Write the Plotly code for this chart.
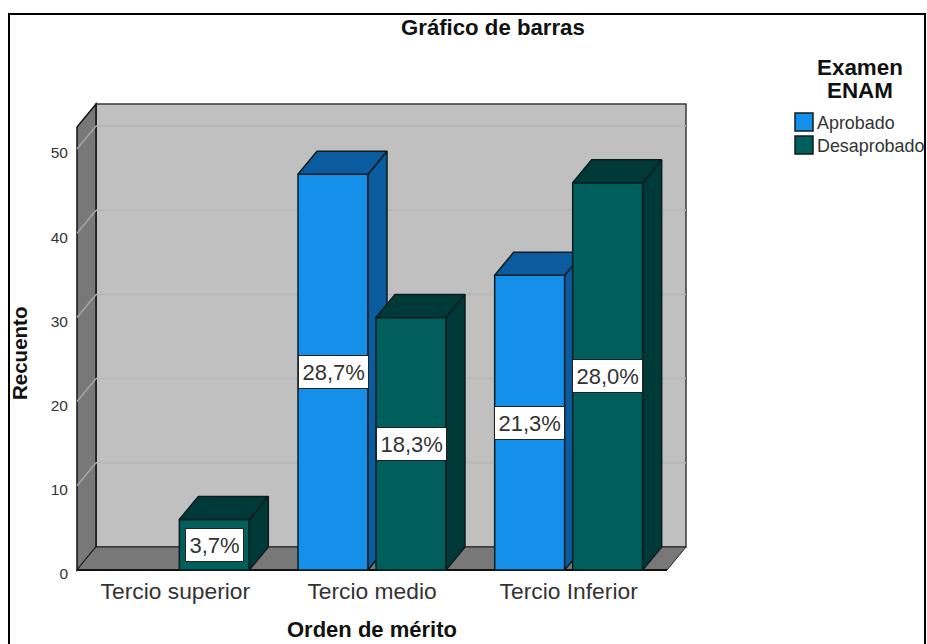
import plotly.graph_objects as go

# ---- data ----
categorias = ["Tercio superior", "Tercio medio", "Tercio Inferior"]
aprobado = [None, 47, 35]
desaprobado = [6, 30, 46]
etq_aprobado = [None, "28,7%", "21,3%"]
etq_desaprobado = ["3,7%", "18,3%", "28,0%"]
y_ticks = [0, 10, 20, 30, 40, 50]

# ---- geometry helpers (pixels → data units) ----
PX_CAT = 196.67
PX_VAL = 8.42
DX = 19 / PX_CAT
DY = 23 / PX_VAL
BW = 70 / PX_CAT
GAP = 4 / PX_CAT
X0, X1 = -0.5, 2.5
Y_TOP = (570 - 127) / PX_VAL
W, H = 927, 644
L, R, T, B = 72, 692, 100, 572
XR = [X0 - (77 - L) / PX_CAT, X0 + (R - 77) / PX_CAT]
YR = [(570 - B) / PX_VAL, (570 - T) / PX_VAL]

EDGE = "#0c1c1e"
series = [
    dict(name="Aprobado", vals=aprobado, labs=etq_aprobado, off=-GAP - BW,
         front="#1490ea", side="#0b5c9e", ax=("x", "y")),
    dict(name="Desaprobado", vals=desaprobado, labs=etq_desaprobado, off=GAP,
         front="#005f5d", side="#003a38", ax=("x2", "y2")),
]

fig = go.Figure()


def poly(xs, ys, fill, ax, name):
    fig.add_trace(go.Scatter(
        x=xs + xs[:1], y=ys + ys[:1], mode="lines", fill="toself", fillcolor=fill,
        line=dict(color=EDGE, width=1.5), hoverinfo="skip", showlegend=False,
        xaxis=ax[0], yaxis=ax[1], name=name))


annots = []
for s in series:
    fig.add_trace(go.Bar(
        x=list(range(len(categorias))), y=s["vals"], name=s["name"], width=BW, offset=s["off"],
        marker=dict(color=s["front"], line=dict(color=EDGE, width=1.5)),
        showlegend=False, xaxis=s["ax"][0], yaxis=s["ax"][1]))
    for i, v in enumerate(s["vals"]):
        if v is None:
            continue
        a, b = i + s["off"], i + s["off"] + BW
        poly([b, b + DX, b + DX, b], [0, DY, v + DY, v], s["side"], s["ax"], s["name"])
        poly([a, b, b + DX, a + DX], [v, v, v + DY, v + DY], s["side"], s["ax"], s["name"])
        annots.append(dict(x=(a + b) / 2, y=v / 2, xref="x", yref="y", text=s["labs"][i],
                           showarrow=False, bgcolor="white", bordercolor="#222222", borderwidth=1,
                           borderpad=3.5, font=dict(size=22, color="#333333")))


# ---- chart walls, floor, grid ----
def path(pts):
    return "M " + " L ".join(f"{x},{y}" for x, y in pts) + " Z"


shapes = []
WALL = dict(xref="x", yref="y", layer="below")
shapes.append(dict(type="path", path=path([(X0 + DX, DY), (X1 + DX, DY), (X1 + DX, Y_TOP + DY), (X0 + DX, Y_TOP + DY)]),
                   fillcolor="#c0c0c0", line=dict(color="#3a3a3a", width=1.5), **WALL))
shapes.append(dict(type="path", path=path([(X0, 0), (X0 + DX, DY), (X0 + DX, Y_TOP + DY), (X0, Y_TOP)]),
                   fillcolor="#787878", line=dict(color="#111111", width=1.5), **WALL))
shapes.append(dict(type="path", path=path([(X0, 0), (X1, 0), (X1 + DX, DY), (X0 + DX, DY)]),
                   fillcolor="#787878", line=dict(color="#222222", width=1), **WALL))
for t in y_ticks[1:]:
    shapes.append(dict(type="line", x0=X0 + DX, x1=X1 + DX, y0=t + DY, y1=t + DY,
                       line=dict(color="#b5b5b5", width=1.5), **WALL))
    shapes.append(dict(type="line", x0=X0, x1=X0 + DX, y0=t, y1=t + DY,
                       line=dict(color="#a6a6a6", width=1.5), **WALL))
shapes.append(dict(type="line", x0=X0, x1=X1, y0=0, y1=0, line=dict(color="#111111", width=2), **WALL))


# ---- pixel helpers for page furniture ----
def px(x):
    return (x - L) / (R - L)


def py(y):
    return (B - y) / (B - T)


# outer frame (runs off the bottom of the picture)
shapes.append(dict(type="path", xref="paper", yref="paper", layer="below",
                   path=f"M {px(9)},{py(660)} L {px(9)},{py(14)} L {px(925)},{py(14)} L {px(925)},{py(660)}",
                   line=dict(color="#000000", width=2)))

# legend
for s, (ya, yb) in zip(series, [(113, 131), (136, 154)]):
    shapes.append(dict(type="rect", xref="paper", yref="paper", x0=px(795), x1=px(813), y0=py(yb), y1=py(ya),
                       fillcolor=s["front"], line=dict(color=EDGE, width=1.5)))
    annots.append(dict(xref="paper", yref="paper", x=px(815), y=py((ya + yb) / 2 + 1), xanchor="left", yanchor="middle",
                       text=s["name"], showarrow=False, font=dict(size=17.9, color="#333333")))


def label(text, x, y, size, angle=0):
    annots.append(dict(xref="paper", yref="paper", x=px(x), y=py(y), xanchor="center", yanchor="middle",
                       text=f"<b>{text}</b>", showarrow=False, textangle=angle, font=dict(size=size, color="#111111")))


label("Gráfico de barras", 493, 28, 22.2)
label("Examen", 860, 67, 22.4)
label("ENAM", 860, 90, 22.4)
label("Orden de mérito", 372, 629.5, 22)
label("Recuento", 19, 354, 20.5, -90)

fig.update_layout(
    width=W, height=H, autosize=False,
    margin=dict(l=L, r=W - R, t=T, b=H - B, pad=0),
    paper_bgcolor="white", plot_bgcolor="rgba(0,0,0,0)",
    font=dict(family="Liberation Sans, Arial, sans-serif", color="#333333"),
    showlegend=False, barmode="overlay",
    shapes=shapes, annotations=annots,
    xaxis=dict(range=XR, tickmode="array", tickvals=list(range(len(categorias))), ticktext=categorias,
               tickfont=dict(size=22.8, color="#333333"), showgrid=False, zeroline=False, showline=False,
               ticks="", ticklabelstandoff=3),
    yaxis=dict(range=YR, tickmode="array", tickvals=y_ticks, tickfont=dict(size=15.5, color="#333333"),
               showgrid=False, zeroline=False, showline=False,
               ticks="", ticklabelstandoff=3, ticklabelshift=4),
    xaxis2=dict(range=XR, overlaying="x", visible=False),
    yaxis2=dict(range=YR, overlaying="y", visible=False),
)

fig.write_html("out.html", config=dict(displayModeBar=False),
               post_script="document.body.style.margin='0';document.body.style.overflow='hidden';")
